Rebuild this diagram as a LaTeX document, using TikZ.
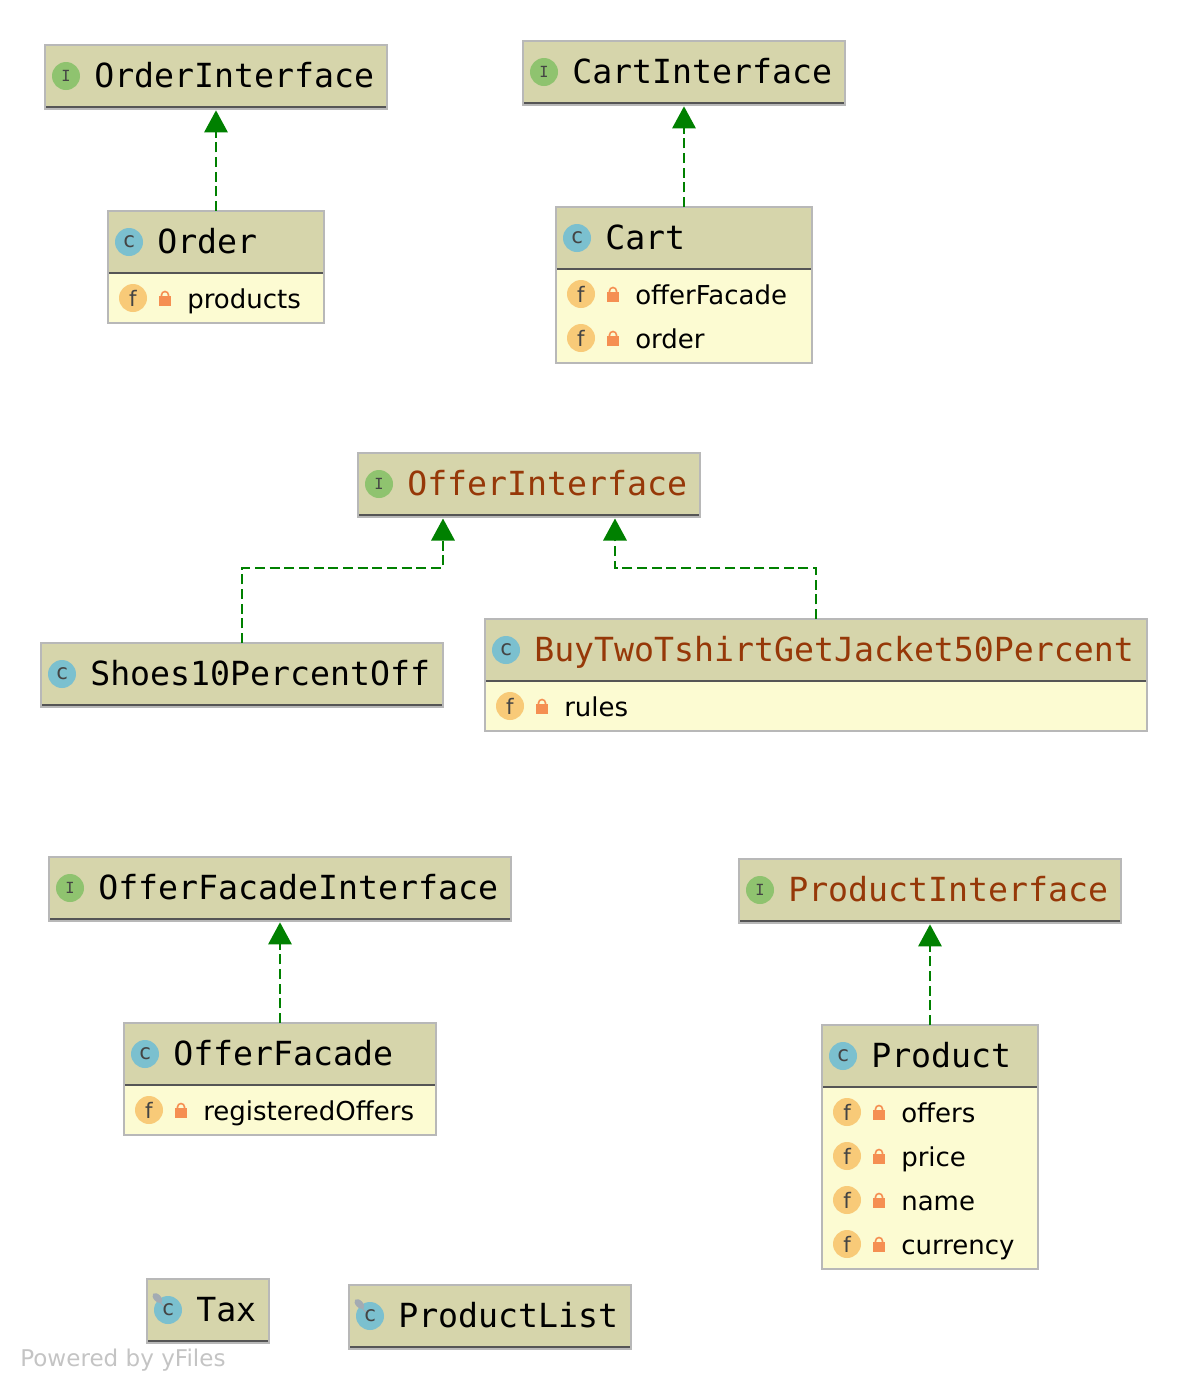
\documentclass[tikz,border=0pt]{standalone}
\usepackage{fontspec}
\setmainfont{DejaVu Sans}
\newfontfamily\classfont{DejaVu Sans Mono}
\usetikzlibrary{arrows.meta}
\definecolor{headkhaki}{HTML}{D6D5AB}
\definecolor{bodyyellow}{HTML}{FCFBD2}
\definecolor{edgegray}{HTML}{B8B8B8}
\definecolor{rulegray}{HTML}{555555}
\definecolor{implgreen}{HTML}{008000}
\definecolor{ifacegreen}{HTML}{8FC36F}
\definecolor{classblue}{HTML}{7BC0CF}
\definecolor{fieldorange}{HTML}{F8CA78}
\definecolor{lockorange}{HTML}{F58F52}
\definecolor{letterink}{HTML}{444444}
\definecolor{plainink}{HTML}{000000}
\definecolor{warnink}{HTML}{963808}
\definecolor{pingray}{HTML}{A3ABB3}
\tikzset{
    classnode/.style={draw=edgegray, line width=1.7pt, fill=bodyyellow, inner sep=0pt, outer sep=0pt, anchor=north west},
    titlenode/.style={anchor=base west, inner sep=0pt, font=\classfont\fontsize{24.9}{30}\selectfont},
    fieldnode/.style={anchor=base west, inner sep=0pt, font=\fontsize{19.5}{24}\selectfont},
    iconnode/.style={circle, minimum size=21pt, inner sep=0pt, text=letterink},
    ifaceicon/.style={iconnode, fill=ifacegreen, font=\classfont\fontsize{11.5}{12}\selectfont},
    classicon/.style={iconnode, fill=classblue, font=\classfont\fontsize{16}{16}\selectfont},
    fieldicon/.style={iconnode, fill=fieldorange, font=\fontsize{16}{16}\selectfont},
    impl/.style={implgreen, line width=1.5pt, dash pattern=on 7.5pt off 3.5pt, -{Triangle[length=16.5pt,width=17.5pt]}}
}
% class box: id, left, top, width, height, icon style, icon letter, title, title colour
\newcommand{\classbox}[9]{
    \node[classnode, minimum width={#4*0.75pt}, minimum height={#5*0.75pt}] (#1) at (#2,#3) {};
    \begin{scope}[shift={(#1.north west)}]
        \fill[headkhaki] (1,1) rectangle (#4-1,62);
        \draw[rulegray, line width=1.5pt] (1,62) -- (#4-1,62);
        \node[#6] (#1icon) at (21,31) {#7};
        \node[titlenode, text=#9] (#1title) at (49,42.5) {#8};
    \end{scope}
}
% field row: class id, offset from the top, text
\newcommand{\fieldrow}[3]{
    \begin{scope}[shift={(#1.north west)}]
        \node[fieldicon] (#1icon#2) at (25,#2) {f};
        \fill[lockorange] (51,#2-2) rectangle (63,#2+8);
        \draw[lockorange, line width=1.2pt] (53.5,#2-2) -- (53.5,#2-3) arc (180:360:3.5) -- (60.5,#2-2);
        \node[fieldnode] (#1field#2) at (79,#2+10) {#3};
    \end{scope}
}
% small pin on a class icon
\newcommand{\pinmark}[1]{
    \draw[pingray, line width=0.8pt] (#1.center) ++(-4,-4) -- ++(-7,-7);
    \fill[pingray, rotate around={-45:(#1.center)}] (#1.center) ++(-16,-1) ellipse (6 and 3.5);
}

\begin{document}
\begin{tikzpicture}[x=0.75pt, y=-0.75pt]
    \useasboundingbox (0,0) rectangle (1188,1390);

    % top row
    \classbox{orderInterface}{45}{45}{342}{64}{ifaceicon}{I}{OrderInterface}{plainink}
    \classbox{order}{108}{211}{216}{112}{classicon}{c}{Order}{plainink}
    \fieldrow{order}{87}{products}
    \classbox{cartInterface}{523}{41}{322}{64}{ifaceicon}{I}{CartInterface}{plainink}
    \classbox{cart}{556}{207}{256}{156}{classicon}{c}{Cart}{plainink}
    \fieldrow{cart}{87}{offerFacade}
    \fieldrow{cart}{131}{order}

    % offers
    \classbox{offerInterface}{358}{453}{342}{64}{ifaceicon}{I}{OfferInterface}{warnink}
    \classbox{shoes}{41}{643}{402}{64}{classicon}{c}{Shoes10PercentOff}{plainink}
    \classbox{buyTwo}{485}{619}{662}{112}{classicon}{c}{BuyTwoTshirtGetJacket50Percent}{warnink}
    \fieldrow{buyTwo}{87}{rules}

    % facade and product
    \classbox{facadeInterface}{49}{857}{462}{64}{ifaceicon}{I}{OfferFacadeInterface}{plainink}
    \classbox{facade}{124}{1023}{312}{112}{classicon}{c}{OfferFacade}{plainink}
    \fieldrow{facade}{87}{registeredOffers}
    \classbox{productInterface}{739}{859}{382}{64}{ifaceicon}{I}{ProductInterface}{warnink}
    \classbox{product}{822}{1025}{216}{244}{classicon}{c}{Product}{plainink}
    \fieldrow{product}{87}{offers}
    \fieldrow{product}{131}{price}
    \fieldrow{product}{175}{name}
    \fieldrow{product}{219}{currency}

    % classes with a pin
    \classbox{tax}{147}{1279}{122}{64}{classicon}{c}{Tax}{plainink}
    \pinmark{taxicon}
    \classbox{productList}{349}{1285}{282}{64}{classicon}{c}{ProductList}{plainink}
    \pinmark{productListicon}

    % realisations
    \draw[impl, shorten >=1pt] (order.north) -- (orderInterface.south);
    \draw[impl, shorten >=1pt] (cart.north) -- (cartInterface.south);
    \draw[impl, shorten >=1pt] (facade.north) -- (facadeInterface.south);
    \draw[impl, shorten >=1pt] (product.north) -- (productInterface.south);

    \coordinate (offerLeft) at (443,518.5);
    \coordinate (offerRight) at (615,518.5);
    \coordinate (bendLeft) at (443,568);
    \coordinate (bendRight) at (615,568);
    \draw[impl] (shoes.north) |- (bendLeft) -- (offerLeft);
    \draw[impl] (buyTwo.north) |- (bendRight) -- (offerRight);

    \node[anchor=base west, inner sep=0pt, text=black!23, font=\fontsize{17.3}{20}\selectfont] (poweredBy) at (20,1366) {Powered by yFiles};
\end{tikzpicture}
\end{document}
